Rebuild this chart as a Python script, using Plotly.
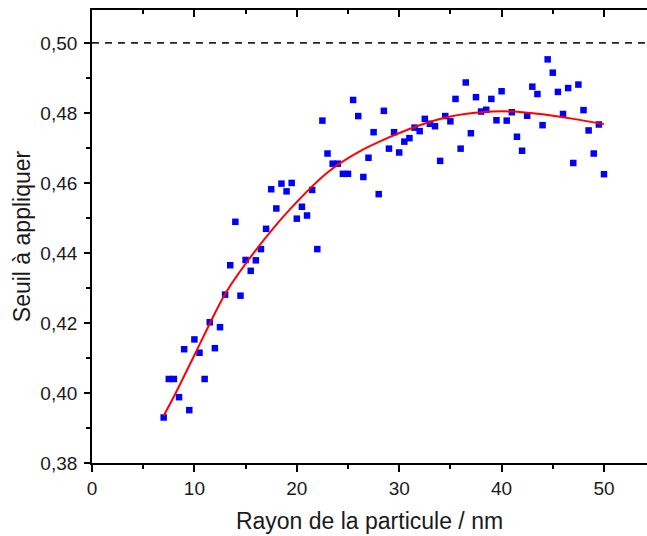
import plotly.graph_objects as go

# Measured points (particle radius in nm, threshold)
radius = [7.0, 7.5, 8.0, 8.5, 9.0, 9.5, 10.0, 10.5, 11.0, 11.5, 12.0, 12.5, 13.0, 13.5,
          14.0, 14.5, 15.0, 15.5, 16.0, 16.5, 17.0, 17.5, 18.0, 18.5, 19.0, 19.5, 20.0,
          20.5, 21.0, 21.5, 22.0, 22.5, 23.0, 23.5, 24.0, 24.5, 25.0, 25.5, 26.0, 26.5,
          27.0, 27.5, 28.0, 28.5, 29.0, 29.5, 30.0, 30.5, 31.0, 31.5, 32.0, 32.5, 33.0,
          33.5, 34.0, 34.5, 35.0, 35.5, 36.0, 36.5, 37.0, 37.5, 38.0, 38.5, 39.0, 39.5,
          40.0, 40.5, 41.0, 41.5, 42.0, 42.5, 43.0, 43.5, 44.0, 44.5, 45.0, 45.5, 46.0,
          46.5, 47.0, 47.5, 48.0, 48.5, 49.0, 49.5, 50.0]
seuil = [0.3930, 0.4040, 0.4040, 0.3988, 0.4125, 0.3951, 0.4153, 0.4115, 0.4040, 0.4202,
         0.4128, 0.4188, 0.4281, 0.4365, 0.4489, 0.4278, 0.4380, 0.4349, 0.4379, 0.4411,
         0.4469, 0.4582, 0.4527, 0.4598, 0.4576, 0.4600, 0.4498, 0.4532, 0.4507, 0.4580,
         0.4411, 0.4778, 0.4684, 0.4655, 0.4655, 0.4626, 0.4626, 0.4837, 0.4791, 0.4617,
         0.4672, 0.4745, 0.4568, 0.4806, 0.4698, 0.4745, 0.4687, 0.4718, 0.4728, 0.4758,
         0.4748, 0.4783, 0.4769, 0.4762, 0.4663, 0.4791, 0.4776, 0.4840, 0.4698, 0.4887,
         0.4742, 0.4845, 0.4804, 0.4809, 0.4840, 0.4779, 0.4862, 0.4778, 0.4802, 0.4732,
         0.4692, 0.4792, 0.4875, 0.4854, 0.4765, 0.4953, 0.4915, 0.4860, 0.4797, 0.4871,
         0.4657, 0.4881, 0.4808, 0.4750, 0.4684, 0.4767, 0.4625]

# Fitted curve
fit_x = [7, 8, 10, 13, 16, 19.5, 23, 26, 29, 32, 35, 38, 41, 44, 47, 50]
fit_y = [0.3935, 0.3990, 0.4108, 0.4283, 0.4408, 0.4530, 0.4630, 0.4688, 0.4730,
         0.4765, 0.4790, 0.4802, 0.4804, 0.4796, 0.4783, 0.4768]

ref_level = 0.50

x_ticks = [0, 10, 20, 30, 40, 50]
x_minor = [5, 15, 25, 35, 45]
y_ticks = [0.38, 0.40, 0.42, 0.44, 0.46, 0.48, 0.50]
y_minor = [0.39, 0.41, 0.43, 0.45, 0.47, 0.49]
y_ticktext = ["0,38", "0,40", "0,42", "0,44", "0,46", "0,48", "0,50"]

X_RANGE = [0, 54.2]
Y_RANGE = [0.38, 0.5094]

FONT = "Liberation Sans, Arial, sans-serif"
TXT = "#1a1a1a"

fig = go.Figure()
fig.add_trace(go.Scatter(x=radius, y=seuil, mode="markers",
                         marker=dict(symbol="square", size=6.5, color="#0000ff",
                                     line=dict(width=0)),
                         showlegend=False, cliponaxis=False))
fig.add_trace(go.Scatter(x=fit_x, y=fit_y, mode="lines",
                         line=dict(color="#ff0000", width=2, shape="spline", smoothing=0.8),
                         showlegend=False))
# dummy trace for top mirrored axis
fig.add_trace(go.Scatter(x=[None], y=[None], xaxis="x2", yaxis="y",
                         showlegend=False, hoverinfo="skip"))

fig.add_shape(type="line", xref="paper", yref="y", x0=0, x1=1, y0=ref_level, y1=ref_level,
              line=dict(color="#222222", width=1.6, dash="7px,6px"))

fig.update_layout(
    width=647, height=536,
    margin=dict(l=92, r=0, t=10, b=73),
    paper_bgcolor="white", plot_bgcolor="white",
    font=dict(family=FONT, color=TXT),
    xaxis=dict(range=X_RANGE, tickvals=x_ticks, ticks="outside", ticklen=7, tickwidth=1.5,
               tickcolor="black", showline=True, linecolor="black", linewidth=1.8,
               showgrid=False, zeroline=False, automargin=False,
               tickfont=dict(size=19, color=TXT),
               minor=dict(tickvals=x_minor, ticks="outside", ticklen=4,
                          tickwidth=1.5, tickcolor="black", showgrid=False),
               title=dict(text="Rayon de la particule / nm", font=dict(size=23, color=TXT),
                          standoff=15)),
    xaxis2=dict(range=X_RANGE, overlaying="x", side="top", anchor="y",
                tickvals=x_ticks, ticks="inside", ticklen=7, tickwidth=1.5,
                tickcolor="black", showline=True, linecolor="black", linewidth=1.8,
                showticklabels=False, showgrid=False, zeroline=False,
                minor=dict(tickvals=x_minor, ticks="inside", ticklen=4,
                           tickwidth=1.5, tickcolor="black", showgrid=False)),
    yaxis=dict(range=Y_RANGE, tickvals=y_ticks, ticktext=y_ticktext, ticks="outside",
               ticklen=6, tickwidth=1.5, tickcolor="black", showline=True,
               linecolor="black", linewidth=1.8, showgrid=False, zeroline=False,
               automargin=False, tickfont=dict(size=19, color=TXT), ticklabelstandoff=3,
               minor=dict(tickvals=y_minor, ticks="outside",
                          ticklen=4, tickwidth=1.5, tickcolor="black", showgrid=False),
               title=dict(text="Seuil à appliquer", font=dict(size=23, color=TXT),
                          standoff=3)),
)

# remove the default page margin so the figure fills the window exactly
fig.write_html("out.html", config={"displayModeBar": False},
               post_script="document.body.style.margin='0';document.body.style.overflow='hidden';")
